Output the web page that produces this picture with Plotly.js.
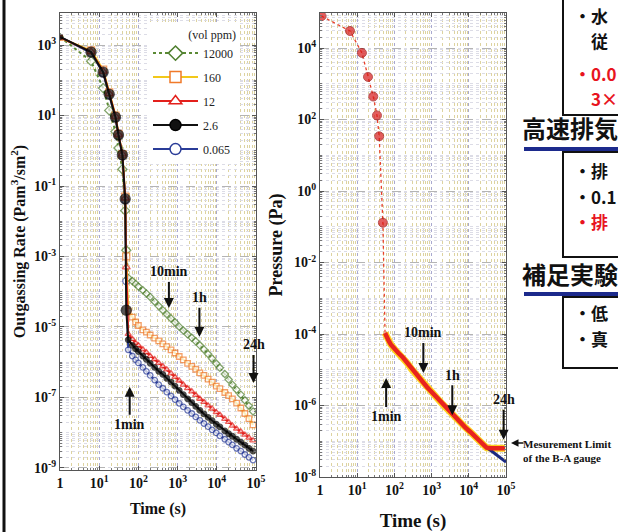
<!DOCTYPE html>
<html><head><meta charset="utf-8">
<script src="https://cdn.plot.ly/plotly-3.0.1.min.js"></script>
<style>html,body{margin:0;padding:0;background:#fff}#chart{width:618px;height:532px}</style>
</head><body><div id="chart"></div>
<script>
// ---------- Left plot: outgassing rate ----------
const seriesNames = ['12000', '160', '12', '2.6', '0.065'];
const tEarly = [1, 6.2, 12.6, 18, 26, 31, 39, 46, 49];
const tDecay = [55, 70, 85, 100, 130, 160, 200, 260, 330, 420, 530, 680, 860, 1100, 1400, 1800, 2300, 2900, 3700, 4700, 6000, 7600, 9700, 12000, 16000, 20000, 25000, 32000, 41000, 52000, 66000, 84000];

const early12000 = [1700, 350, 60, 14, 3.5, 1.2, 0.3, 0.02, 1.5e-3];
const early160   = [1600, 700, 200, 45, 10, 3, 0.8, 0.05, 1e-3];
const early12    = [1650, 650, 180, 42, 9.5, 2.9, 0.8, 0.045, 5e-4];
const early2p6   = [1700, 630, 170, 40, 9, 2.8, 0.76, 0.043, 3e-5];
const early0p065 = [1700, 600, 160, 38, 8.5, 2.6, 0.7, 0.04, 2e-4];

const decay12000 = [2.5e-4, 2.0e-4, 1.66e-4, 1.4e-4, 1.1e-4, 8.9e-5, 7.1e-5, 5.2e-5, 3.9e-5, 3.0e-5, 2.3e-5, 1.74e-5, 1.35e-5, 1.02e-5, 7.9e-6, 6.2e-6, 4.9e-6, 3.9e-6, 3.0e-6, 2.3e-6, 1.7e-6, 1.26e-6, 9.1e-7, 6.9e-7, 4.6e-7, 3.2e-7, 2.3e-7, 1.66e-7, 1.2e-7, 8.3e-8, 5.8e-8, 4.0e-8];
const decay160   = [2.8e-5, 1.9e-5, 1.38e-5, 1.1e-5, 8.3e-6, 7.1e-6, 5.9e-6, 4.8e-6, 4.0e-6, 3.3e-6, 2.75e-6, 2.24e-6, 1.82e-6, 1.45e-6, 1.17e-6, 9.3e-7, 7.6e-7, 6.3e-7, 5.0e-7, 4.2e-7, 3.3e-7, 2.7e-7, 2.1e-7, 1.78e-7, 1.38e-7, 1.12e-7, 9.1e-8, 6.9e-8, 5.0e-8, 3.5e-8, 2.5e-8, 1.66e-8];
const decay12    = [6.3e-6, 4.5e-6, 3.5e-6, 3.0e-6, 2.3e-6, 1.9e-6, 1.5e-6, 1.2e-6, 9.5e-7, 7.6e-7, 6.2e-7, 4.8e-7, 3.8e-7, 3.0e-7, 2.3e-7, 1.82e-7, 1.48e-7, 1.17e-7, 9.1e-8, 7.4e-8, 5.9e-8, 4.8e-8, 3.8e-8, 3.2e-8, 2.45e-8, 2.0e-8, 1.58e-8, 1.29e-8, 1.07e-8, 8.7e-9, 7.2e-9, 6.0e-9];
const decay2p6   = [4.3e-6, 3.0e-6, 2.4e-6, 2.0e-6, 1.5e-6, 1.2e-6, 9.3e-7, 7.1e-7, 5.5e-7, 4.5e-7, 3.5e-7, 2.7e-7, 2.1e-7, 1.58e-7, 1.2e-7, 9.1e-8, 7.1e-8, 5.6e-8, 4.3e-8, 3.4e-8, 2.7e-8, 2.2e-8, 1.74e-8, 1.45e-8, 1.12e-8, 9.3e-9, 7.9e-9, 6.5e-9, 5.4e-9, 4.4e-9, 3.6e-9, 3.0e-9];
const decay0p065 = [2.24e-6, 1.5e-6, 1.17e-6, 9.5e-7, 7.1e-7, 5.5e-7, 4.2e-7, 3.1e-7, 2.3e-7, 1.82e-7, 1.41e-7, 1.1e-7, 8.7e-8, 6.8e-8, 5.4e-8, 4.3e-8, 3.5e-8, 2.8e-8, 2.24e-8, 1.82e-8, 1.48e-8, 1.2e-8, 9.8e-9, 8.1e-9, 6.5e-9, 5.4e-9, 4.5e-9, 3.6e-9, 3.0e-9, 2.4e-9, 2.0e-9, 1.66e-9];

// ---------- Right plot: pressure ----------
const tPump = [1.1, 6.4, 13.4, 19.5, 27, 34, 39, 49];
const pPump = [7.8e4, 3e4, 7.3e3, 1.56e3, 440, 130, 34, 0.13];
const tMeas = [56, 60, 70, 80, 100, 130, 170, 220, 300, 400, 550, 750, 1000, 1400, 2000, 2800, 4000, 5500, 8000, 11000, 15000, 20000, 25000, 30000, 40000, 60000, 95000];
const pMeas = [1.07e-4, 8.9e-5, 6.5e-5, 5.1e-5, 3.8e-5, 2.9e-5, 2.2e-5, 1.55e-5, 1.0e-5, 6.9e-6, 4.9e-6, 3.3e-6, 2.4e-6, 1.62e-6, 1.07e-6, 7.2e-7, 5.0e-7, 3.5e-7, 2.45e-7, 1.82e-7, 1.35e-7, 1.0e-7, 8.0e-8, 6.6e-8, 6.4e-8, 6.4e-8, 6.4e-8];
const tTrue = [20000, 25000, 30000, 40000, 60000, 85000, 100000];
const pTrue = [1.0e-7, 7.9e-8, 6.6e-8, 5.4e-8, 3.9e-8, 2.9e-8, 2.6e-8];

// ---------- Tick labels ----------
const xTickVals = [1, 10, 100, 1000, 10000, 100000];
const xTickText = ['1', '10<sup>1</sup>', '10<sup>2</sup>', '10<sup>3</sup>', '10<sup>4</sup>', '10<sup>5</sup>'];
const y1TickVals = [1e-9, 1e-7, 1e-5, 1e-3, 1e-1, 10, 1000];
const y1TickText = ['10<sup>-9</sup>', '10<sup>-7</sup>', '10<sup>-5</sup>', '10<sup>-3</sup>', '10<sup>-1</sup>', '10<sup>1</sup>', '10<sup>3</sup>'];
const y2TickVals = [1e-8, 1e-6, 1e-4, 1e-2, 1, 100, 10000];
const y2TickText = ['10<sup>-8</sup>', '10<sup>-6</sup>', '10<sup>-4</sup>', '10<sup>-2</sup>', '10<sup>0</sup>', '10<sup>2</sup>', '10<sup>4</sup>'];

// ---------- Styles ----------
const SERIF = 'Liberation Serif, Times New Roman, serif';
const CJK = 'Noto Sans CJK JP, sans-serif';
const RED = '#e8141e';
const styles = {
  '12000': {symbol: 'diamond', mc: '#4f7f2f', lc: '#5b8a35', dash: 'dot'},
  '160':   {symbol: 'square', mc: '#f07a2a', lc: '#f2c81a', dash: 'solid'},
  '12':    {symbol: 'triangle-up', mc: '#e3201c', lc: '#e3201c', dash: 'solid'},
  '2.6':   {symbol: 'circle', mc: '#111111', lc: '#111111', dash: 'solid', filled: true},
  '0.065': {symbol: 'circle', mc: '#2a3c98', lc: '#2a3c98', dash: 'solid'}
};
const earlyData = {'12000': early12000, '160': early160, '12': early12, '2.6': early2p6, '0.065': early0p065};
const decayData = {'12000': decay12000, '160': decay160, '12': decay12, '2.6': decay2p6, '0.065': decay0p065};

const traces = [];
// legend entries
seriesNames.forEach(n => {
  const s = styles[n];
  traces.push({
    x: [null], y: [null], xaxis: 'x', yaxis: 'y', type: 'scatter', mode: 'lines+markers',
    name: n, legendgroup: n, showlegend: true,
    line: {color: s.lc, width: 2, dash: s.dash},
    marker: {symbol: s.symbol, size: 11, color: s.filled ? s.mc : '#ffffff', line: {color: s.filled ? '#000' : s.mc, width: 1.5}}
  });
});
// data, drawn bottom to top
['0.065', '12000', '160', '12', '2.6'].forEach(n => {
  const s = styles[n];
  const xs = tEarly.concat(tDecay);
  const ys = earlyData[n].concat(decayData[n]);
  const sizes = xs.map((_, i) => i === 0 ? 5 : (i < tEarly.length ? (s.filled ? 10 : 7) : 5.5));
  traces.push({
    x: xs, y: ys, xaxis: 'x', yaxis: 'y', type: 'scatter', mode: 'lines+markers',
    name: n, showlegend: false, hoverinfo: 'skip',
    line: {color: s.lc, width: 2, dash: s.dash === 'dot' ? 'dot' : 'solid'},
    marker: {symbol: s.symbol, size: sizes, color: s.filled ? s.mc : '#ffffff', line: {color: s.filled ? '#000' : s.mc, width: 1.3}}
  });
});
// right plot
traces.push({x: tMeas, y: pMeas, xaxis: 'x2', yaxis: 'y2', type: 'scatter', mode: 'lines', showlegend: false, hoverinfo: 'skip', line: {color: '#ffd21f', width: 7}});
traces.push({x: tTrue, y: pTrue, xaxis: 'x2', yaxis: 'y2', type: 'scatter', mode: 'lines', showlegend: false, hoverinfo: 'skip', line: {color: '#1c2a80', width: 3}});
traces.push({x: tMeas, y: pMeas, xaxis: 'x2', yaxis: 'y2', type: 'scatter', mode: 'lines', showlegend: false, hoverinfo: 'skip', line: {color: '#e8231e', width: 4.5}});
traces.push({
  x: tPump.concat([tMeas[0]]), y: pPump.concat([pMeas[0]]), xaxis: 'x2', yaxis: 'y2', type: 'scatter', mode: 'lines+markers',
  showlegend: false, hoverinfo: 'skip',
  line: {color: '#e8402a', width: 1.3, dash: 'dot'},
  marker: {size: tPump.map(() => 9).concat([0]), color: '#d81a1a', line: {color: '#9a0c0c', width: 1}}
});

const W = 618, H = 532;
const px = v => v / W, py = v => 1 - v / H;
const tickFont = {family: SERIF, size: 14, color: '#111', weight: 'bold'};

function xAxis(domain, anchor, titleSize, standoff) {
  return {
    type: 'log', domain: domain, range: [0, 5], anchor: anchor,
    tickmode: 'array', tickvals: xTickVals, ticktext: xTickText, tickfont: tickFont,
    showgrid: true, gridcolor: '#a9a9cf', griddash: 'dot', gridwidth: 1,
    minor: {dtick: 'D1', showgrid: true, gridcolor: '#ddd3a0', griddash: 'dot', ticks: 'inside', ticklen: 2, tickcolor: '#777'},
    showline: true, mirror: 'ticks', linecolor: '#555', linewidth: 1,
    ticks: 'inside', ticklen: 4, tickcolor: '#555', zeroline: false,
    title: {text: 'Time (s)', font: {family: SERIF, size: titleSize, color: '#111', weight: 'bold'}, standoff: standoff}
  };
}
function yAxis(domain, anchor, range, vals, text, title, titleSize, standoff) {
  return {
    type: 'log', domain: domain, range: range, anchor: anchor,
    tickmode: 'array', tickvals: vals, ticktext: text, tickfont: tickFont,
    showgrid: true, gridcolor: '#b4b4b4', griddash: 'dash', gridwidth: 1,
    minor: {dtick: 'D1', showgrid: true, gridcolor: '#dcdce6', griddash: 'dot', ticks: 'inside', ticklen: 2, tickcolor: '#777'},
    showline: true, mirror: 'ticks', linecolor: '#555', linewidth: 1,
    ticks: 'inside', ticklen: 4, tickcolor: '#555', zeroline: false,
    title: {text: title, font: {family: SERIF, size: titleSize, color: '#111', weight: 'bold'}, standoff: standoff}
  };
}

const annFont = {family: SERIF, size: 14, color: '#111', weight: 'bold'};
function timeMark(xa, ya, t, yHead, ay, label) {
  return {xref: xa, yref: ya, x: Math.log10(t), y: yHead, ax: 0, ay: ay, text: label, font: annFont,
    showarrow: true, arrowhead: 2, arrowsize: 1, arrowwidth: 2, arrowcolor: '#111', standoff: 0, startstandoff: 1};
}
const annotations = [
  timeMark('x', 'y', 600, -4.46, -36, '10min'),
  timeMark('x', 'y', 3600, -5.28, -39, '1h'),
  timeMark('x', 'y', 86400, -6.59, -38, '24h'),
  timeMark('x', 'y', 60, -6.70, 38, '1min'),
  timeMark('x2', 'y2', 600, -5.09, -40, '10min'),
  timeMark('x2', 'y2', 3600, -6.27, -40, '1h'),
  timeMark('x2', 'y2', 86400, -6.96, -40, '24h'),
  timeMark('x2', 'y2', 60, -5.23, 39, '1min'),
  {xref: 'paper', yref: 'paper', x: px(511), y: py(443), ax: 14, ay: 0, text: '', showarrow: true, arrowhead: 2, arrowwidth: 1.5, arrowcolor: '#111'},
  {xref: 'paper', yref: 'paper', x: px(521), y: py(451), xanchor: 'left', yanchor: 'middle', align: 'left', showarrow: false,
    text: 'Mesurement Limit<br>of the B-A gauge', font: {family: SERIF, size: 11, color: '#111', weight: 'bold'}}
];
// Japanese slide text (boxes reach past the page edge): [text, x, y, colour]
const jpRows = [
  ['・水', 573, 15, '#111'], ['　従', 573, 41, '#111'],
  ['・0.0', 573, 73, RED], ['　3×', 573, 99, RED],
  ['・排', 573, 171, '#111'], ['・0.1', 573, 196, '#111'], ['・排', 573, 221, RED],
  ['・低', 573, 312, '#111'], ['・真', 573, 338, '#111']
];
jpRows.forEach(r => annotations.push({xref: 'paper', yref: 'paper', x: px(r[1]), y: py(r[2]), xanchor: 'left', yanchor: 'middle',
  showarrow: false, borderpad: 0, text: r[0], font: {family: CJK, size: 17, color: r[3], weight: 'bold'}}));
[['高速排気', 127], ['補足実験', 273]].forEach(r => annotations.push({xref: 'paper', yref: 'paper', x: px(521), y: py(r[1]), xanchor: 'left', yanchor: 'middle',
  showarrow: false, borderpad: 0, text: r[0], font: {family: CJK, size: 24, color: '#111', weight: 'bold'}}));

const shapes = [
  {type: 'line', xref: 'paper', yref: 'paper', x0: px(4), x1: px(4), y0: 0, y1: 1, line: {color: '#111', width: 3}},
  {type: 'rect', xref: 'paper', yref: 'paper', x0: px(563), x1: 1.05, y0: py(115), y1: 1.05, line: {color: '#111', width: 2}},
  {type: 'rect', xref: 'paper', yref: 'paper', x0: px(563), x1: 1.05, y0: py(257), y1: py(152), line: {color: '#111', width: 2}},
  {type: 'rect', xref: 'paper', yref: 'paper', x0: px(563), x1: 1.05, y0: py(368), y1: py(297), line: {color: '#111', width: 2}},
  {type: 'line', xref: 'paper', yref: 'paper', x0: px(524), x1: 1.02, y0: py(149), y1: py(149), line: {color: '#1c2a8c', width: 4}},
  {type: 'line', xref: 'paper', yref: 'paper', x0: px(524), x1: 1.02, y0: py(294), y1: py(294), line: {color: '#1c2a8c', width: 4}}
];

const layout = {
  width: W, height: H, margin: {l: 0, r: 0, t: 0, b: 0},
  paper_bgcolor: '#ffffff', plot_bgcolor: '#ffffff',
  showlegend: true,
  legend: {x: px(148), y: py(23), xanchor: 'left', yanchor: 'top', bgcolor: '#ffffff', borderwidth: 0,
    font: {family: SERIF, size: 12, color: '#222'}, itemwidth: 45, tracegroupgap: 5, traceorder: 'grouped',
    title: {text: '(vol ppm)', side: 'top right', font: {family: SERIF, size: 12, color: '#222'}}},
  xaxis: xAxis([px(60), px(256)], 'y', 16, 13),
  yaxis: yAxis([py(470), py(13)], 'x', [-9.06, 3.91], y1TickVals, y1TickText, 'Outgassing Rate (Pam<sup>3</sup>/sm<sup>2</sup>)', 16, 4),
  xaxis2: xAxis([px(320), px(506)], 'y2', 19, 16),
  yaxis2: yAxis([py(477), py(13)], 'x2', [-8, 4.98], y2TickVals, y2TickText, 'Pressure (Pa)', 18, 6),
  annotations: annotations, shapes: shapes
};

Plotly.newPlot('chart', traces, layout, {staticPlot: true, displayModeBar: false});
</script></body></html>
